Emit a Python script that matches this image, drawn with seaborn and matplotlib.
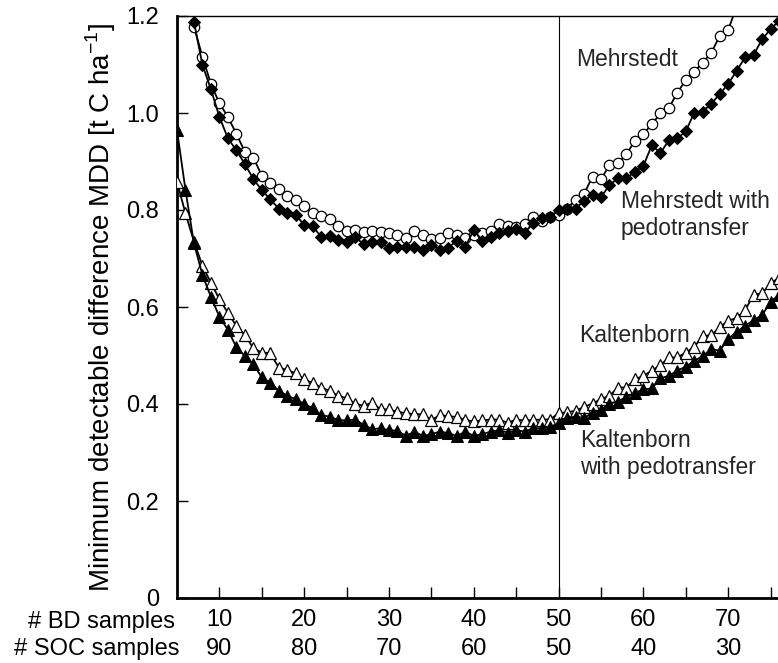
import numpy as np
import pandas as pd
import matplotlib
matplotlib.use("Agg")
import matplotlib.pyplot as plt
import seaborn as sns

# ---------------- data ----------------
bd_ticks = [10, 20, 30, 40, 50, 60, 70]
soc_ticks = [90, 80, 70, 60, 50, 40, 30]

x_meh = list(range(7, 72))
meh = [1.178, 1.116, 1.060, 1.020, 0.992, 0.957, 0.920, 0.908, 0.871, 0.855,
       0.843, 0.828, 0.820, 0.808, 0.793, 0.788, 0.781, 0.767, 0.757, 0.758,
       0.755, 0.757, 0.755, 0.753, 0.749, 0.742, 0.757, 0.749, 0.740, 0.742,
       0.753, 0.749, 0.742, 0.749, 0.753, 0.757, 0.771, 0.767, 0.764, 0.771,
       0.786, 0.778, 0.786, 0.790, 0.803, 0.821, 0.833, 0.869, 0.863, 0.893,
       0.896, 0.915, 0.943, 0.957, 0.977, 0.999, 1.010, 1.042, 1.068, 1.085,
       1.104, 1.124, 1.159, 1.171, 1.220]

x_meh_pt = list(range(7, 77))
meh_pt = [1.188, 1.099, 1.049, 0.992, 0.948, 0.923, 0.895, 0.864, 0.841, 0.822,
          0.803, 0.793, 0.790, 0.769, 0.766, 0.745, 0.746, 0.738, 0.733, 0.744,
          0.730, 0.733, 0.733, 0.721, 0.723, 0.724, 0.724, 0.718, 0.728, 0.718,
          0.722, 0.737, 0.724, 0.759, 0.737, 0.744, 0.752, 0.757, 0.760, 0.753,
          0.774, 0.783, 0.786, 0.799, 0.803, 0.803, 0.819, 0.831, 0.826, 0.852,
          0.865, 0.865, 0.879, 0.891, 0.934, 0.917, 0.944, 0.948, 0.962, 1.001,
          1.003, 1.019, 1.039, 1.060, 1.087, 1.115, 1.120, 1.152, 1.173, 1.190]

x_kal = list(range(5, 77))
kal = [0.858, 0.793, 0.735, 0.685, 0.650, 0.616, 0.588, 0.561, 0.542, 0.515,
       0.506, 0.505, 0.475, 0.470, 0.463, 0.451, 0.443, 0.434, 0.427, 0.417,
       0.412, 0.401, 0.396, 0.403, 0.389, 0.389, 0.384, 0.381, 0.379, 0.379,
       0.367, 0.377, 0.375, 0.373, 0.367, 0.364, 0.366, 0.368, 0.368, 0.361,
       0.368, 0.366, 0.367, 0.368, 0.368, 0.381, 0.383, 0.386, 0.394, 0.401,
       0.410, 0.417, 0.434, 0.434, 0.451, 0.458, 0.469, 0.480, 0.496, 0.496,
       0.506, 0.518, 0.540, 0.542, 0.558, 0.572, 0.577, 0.594, 0.625, 0.628,
       0.649, 0.660]

x_kal_pt = list(range(5, 77))
kal_pt = [0.965, 0.841, 0.731, 0.666, 0.621, 0.580, 0.553, 0.517, 0.499, 0.482,
          0.455, 0.444, 0.427, 0.417, 0.410, 0.400, 0.391, 0.377, 0.374, 0.367,
          0.366, 0.368, 0.357, 0.348, 0.350, 0.346, 0.345, 0.334, 0.343, 0.334,
          0.338, 0.343, 0.340, 0.334, 0.343, 0.334, 0.338, 0.343, 0.346, 0.341,
          0.346, 0.343, 0.350, 0.350, 0.353, 0.360, 0.371, 0.374, 0.371, 0.382,
          0.388, 0.401, 0.405, 0.415, 0.423, 0.430, 0.432, 0.453, 0.458, 0.469,
          0.477, 0.489, 0.499, 0.513, 0.510, 0.534, 0.549, 0.561, 0.573, 0.583,
          0.611, 0.625]

# ---------------- figure ----------------
sns.set_theme(style="white")
plt.rcParams["font.family"] = ["Liberation Sans", "DejaVu Sans"]

fig = plt.figure(figsize=(7.78, 6.63), dpi=100)
W, H = 778, 663
ax_left, ax_top, ax_bottom = 177, 16, 598
px_per_unit = 8.48
x0, x1 = 5, 85
ax = fig.add_axes([ax_left / W, (H - ax_bottom) / H,
                   (x1 - x0) * px_per_unit / W, (ax_bottom - ax_top) / H])

lw = 1.3
sns.lineplot(x=x_meh, y=meh, ax=ax, color="black", lw=lw, marker="o",
             markersize=7.5, markerfacecolor="white", markeredgecolor="black",
             markeredgewidth=0.9, zorder=3)
sns.lineplot(x=x_meh_pt, y=meh_pt, ax=ax, color="black", lw=lw, marker="D",
             markersize=6, markerfacecolor="black", markeredgecolor="black",
             zorder=3)
sns.lineplot(x=x_kal, y=kal, ax=ax, color="black", lw=lw, marker="^",
             markersize=9, markerfacecolor="white", markeredgecolor="black",
             markeredgewidth=0.9, zorder=3)
sns.lineplot(x=x_kal_pt, y=kal_pt, ax=ax, color="black", lw=lw, marker="^",
             markersize=8.5, markerfacecolor="black", markeredgecolor="black",
             zorder=3)

ax.axvline(50, color="black", lw=0.8, zorder=2)

ax.set_xlim(x0, x1)
ax.set_ylim(0, 1.2)

ax.set_xticks(bd_ticks)
ax.set_xticks([t + 5 for t in bd_ticks], minor=True)
ax.set_xticklabels([f"{b}\n{s}" for b, s in zip(bd_ticks, soc_ticks)],
                   linespacing=1.4)
yt = [0, 0.2, 0.4, 0.6, 0.8, 1.0, 1.2]
ax.set_yticks(yt)
ax.set_yticklabels(["0", "0.2", "0.4", "0.6", "0.8", "1.0", "1.2"])

ax.tick_params(axis="x", which="both", direction="in", length=8, width=1.0,
               labelsize=17, pad=8, colors="black", bottom=True)
ax.tick_params(axis="y", which="major", direction="in", length=8, width=1.0,
               labelsize=17, pad=13, colors="black", left=True)

for side in ["left", "bottom"]:
    ax.spines[side].set_linewidth(2.0)
    ax.spines[side].set_color("black")
ax.spines["top"].set_linewidth(1.0)
ax.spines["top"].set_color("black")
ax.spines["right"].set_visible(False)

ax.set_ylabel("Minimum detectable difference MDD [t C ha$^{\\mathregular{-1}}$]",
              fontsize=20, labelpad=6, color="black")

# row labels for the two x axes
fig.text(175 / W, 1 - 622 / H, "# BD samples", ha="right", va="center",
         fontsize=17, color="black")
fig.text(179 / W, 1 - 649 / H, "# SOC samples", ha="right", va="center",
         fontsize=17, color="black")

# series annotations
fs = 16.5
ax.text(52.1, 1.111, "Mehrstedt", ha="left", va="center", fontsize=fs)
ax.text(57.3, 0.79, "Mehrstedt with\npedotransfer", ha="left", va="center",
        fontsize=fs, linespacing=1.25)
ax.text(52.4, 0.542, "Kaltenborn", ha="left", va="center", fontsize=fs)
ax.text(52.5, 0.297, "Kaltenborn\nwith pedotransfer", ha="left", va="center",
        fontsize=fs, linespacing=1.25)

fig.savefig("out.png", dpi=100)
